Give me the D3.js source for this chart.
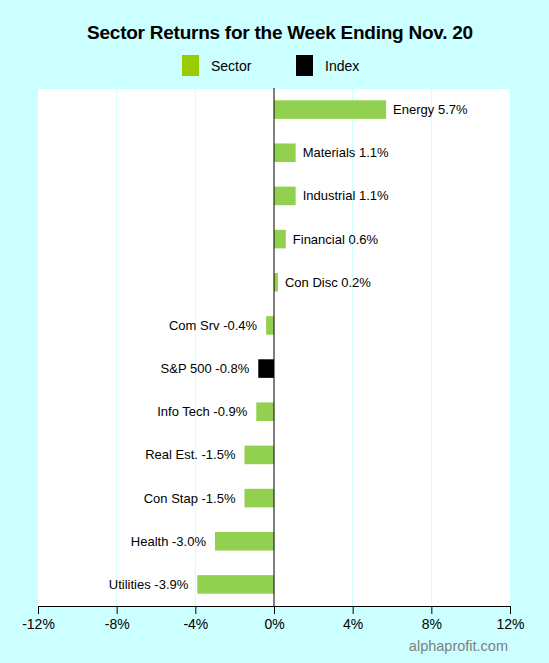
<!DOCTYPE html>
<html><head><meta charset="utf-8">
<script src="https://cdn.jsdelivr.net/npm/d3@7"></script>
<style>html,body{margin:0;padding:0;background:#ccffff;}svg{display:block;font-family:Arial,"Liberation Sans",sans-serif;}</style>
</head><body>
<script>
const categories = ["Energy","Materials","Industrial","Financial","Con Disc","Com Srv","S&P 500","Info Tech","Real Est.","Con Stap","Health","Utilities"];
const values = [5.7,1.1,1.1,0.6,0.2,-0.4,-0.8,-0.9,-1.5,-1.5,-3.0,-3.9];
const kinds = ["Sector","Sector","Sector","Sector","Sector","Sector","Index","Sector","Sector","Sector","Sector","Sector"];
const tickValues = [-12,-8,-4,0,4,8,12];
const legendItems = ["Sector","Index"];

const W=549,H=663;
const plotTop=89, plotBottom=606, left=38, right=510;
const svg=d3.select("body").append("svg").attr("width",W).attr("height",H);
svg.append("rect").attr("width",W).attr("height",H).attr("fill","#ccffff");

const x=d3.scaleLinear().domain([-12,12]).range([left,right]);
const y=d3.scaleBand().domain(categories).range([88,606]).paddingInner(0.57).paddingOuter(0.285);

svg.append("rect").attr("x",x(-12)).attr("y",plotTop).attr("width",x(12)-x(-12)).attr("height",plotBottom-plotTop).attr("fill","#ffffff");

svg.append("g").selectAll("line").data(tickValues.filter(d=>d!==0&&Math.abs(d)!==12)).join("line")
  .attr("x1",d=>x(d)).attr("x2",d=>x(d)).attr("y1",plotTop).attr("y2",plotBottom)
  .attr("stroke","#ccffff").attr("stroke-width",1);

const color=d3.scaleOrdinal().domain(["Sector","Index"]).range(["#92d050","#000000"]);

svg.append("g").selectAll("rect").data(categories).join("rect")
  .attr("x",(d,i)=>x(Math.min(0,values[i])))
  .attr("width",(d,i)=>Math.abs(x(values[i])-x(0)))
  .attr("y",d=>y(d)).attr("height",y.bandwidth())
  .attr("fill",(d,i)=>color(kinds[i]));

svg.append("line").attr("x1",x(0)).attr("x2",x(0)).attr("y1",plotTop-1).attr("y2",plotBottom).attr("stroke","#000").attr("stroke-width",1);

svg.append("g").selectAll("text").data(categories).join("text")
  .attr("x",(d,i)=>values[i]>=0? x(values[i])+7 : x(values[i])-9)
  .attr("y",d=>y(d)+y.bandwidth()/2).attr("dy","0.35em")
  .attr("text-anchor",(d,i)=>values[i]>=0?"start":"end")
  .attr("font-size",13).attr("fill","#000")
  .text((d,i)=>d+" "+values[i].toFixed(1)+"%");

const ax=svg.append("g").attr("transform",`translate(0,${plotBottom})`)
  .call(d3.axisBottom(x).tickValues(tickValues).tickFormat(d=>d+"%").tickSize(8).tickSizeOuter(0));
ax.select(".domain").attr("stroke","#000");
ax.selectAll(".tick line").attr("stroke","#000");
ax.selectAll(".tick text").attr("font-size",14).attr("font-family","Arial,'Liberation Sans',sans-serif").attr("fill","#000").attr("y",10).attr("dy","0.9em");

svg.append("text").attr("x",280).attr("y",39).attr("text-anchor","middle")
  .attr("font-size",19).attr("font-weight","bold").attr("letter-spacing","-0.25").text("Sector Returns for the Week Ending Nov. 20");

const lg=svg.append("g");
const lx=[182,296];
legendItems.forEach((k,i)=>{
  lg.append("rect").attr("x",lx[i]).attr("y",55).attr("width",17).attr("height",21).attr("fill",k==="Sector"?"#99cc00":"#000");
  lg.append("text").attr("x",lx[i]+29).attr("y",66).attr("dy","0.35em").attr("font-size",14).text(k);
});

svg.append("text").attr("x",508).attr("y",651).attr("text-anchor","end").attr("font-size",14.5).attr("fill","#808080").text("alphaprofit.com");
</script>
</body></html>
